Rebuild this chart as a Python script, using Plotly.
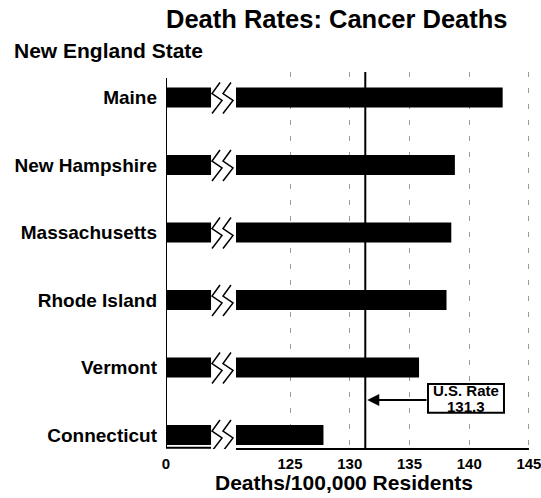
import plotly.graph_objects as go

# ---- data ----
states = ["Connecticut", "Vermont", "Rhode Island", "Massachusetts", "New Hampshire", "Maine"]
rates = [127.8, 135.8, 138.1, 138.5, 138.8, 142.8]
us_rate = 131.3
tick_vals = [125, 130, 135, 140, 145]
tick_text = ["125", "130", "135", "140", "145"]

# ---- broken-axis layout constants (axis units) ----
ZERO_POS = 114.62      # where "0" sits on the compressed axis
STUB_END = 118.39      # end of the stub segment before the break
BREAK_END = 120.48     # where the real scale resumes
X_RANGE = [ZERO_POS, 145.59]
Y_RANGE = [-0.207, 5.378]
FONT = "Liberation Sans, Arial, Helvetica, sans-serif"

ypos = list(range(len(states)))

fig = go.Figure()
# stub (compressed 0..break)
fig.add_trace(go.Bar(
    y=ypos, x=[STUB_END - ZERO_POS] * len(states), base=ZERO_POS,
    orientation="h", width=0.296, marker=dict(color="black", line=dict(width=0)),
    hoverinfo="skip", showlegend=False))
# main bars
fig.add_trace(go.Bar(
    y=ypos, x=[r - BREAK_END for r in rates], base=BREAK_END,
    orientation="h", width=0.296, marker=dict(color="black", line=dict(width=0)),
    customdata=rates, hovertemplate="%{customdata}<extra></extra>", showlegend=False))

shapes = []
# zigzag break marks on each bar
zig_x = [119.14, 118.47, 119.31, 118.47]
zig_dy = [0.222, 0.059, -0.044, -0.237]
for k in ypos:
    for off in (0.0, 0.92):
        pts = [(x + off, k + dy) for x, dy in zip(zig_x, zig_dy)]
        path = "M " + " L ".join(f"{px},{py}" for px, py in pts)
        shapes.append(dict(type="path", path=path, xref="x", yref="y",
                           line=dict(color="black", width=1.5), layer="above"))

# left axis line + bottom bracket
shapes.append(dict(type="line", xref="x", yref="paper", x0=ZERO_POS, x1=ZERO_POS,
                   y0=0.984, y1=0.003, line=dict(color="black", width=2), layer="above"))
shapes.append(dict(type="line", xref="x", yref="paper", x0=ZERO_POS, x1=STUB_END,
                   y0=0.003, y1=0.003, line=dict(color="black", width=2), layer="above"))
# bottom axis line after the break
shapes.append(dict(type="line", xref="x", yref="paper", x0=BREAK_END, x1=145,
                   y0=0, y1=0, line=dict(color="black", width=2), layer="above"))
# US rate line
shapes.append(dict(type="line", xref="x", yref="paper", x0=us_rate, x1=us_rate,
                   y0=0, y1=1, line=dict(color="black", width=2), layer="above"))
# label box
shapes.append(dict(type="rect", xref="x", yref="y", x0=136.55, x1=142.91,
                   y0=0.33, y1=0.755, line=dict(color="black", width=2),
                   fillcolor="white", layer="above"))

annotations = [
    dict(text="Death Rates: Cancer Deaths", xref="paper", yref="paper", x=0.462, y=1.14,
         xanchor="center", yanchor="middle", showarrow=False,
         font=dict(family=FONT, size=25.5, color="black", weight="bold")),
    dict(text="New England State", xref="paper", yref="paper", x=-0.416, y=1.056,
         xanchor="left", yanchor="middle", showarrow=False,
         font=dict(family=FONT, size=21, color="black", weight="bold")),
    dict(text="Deaths/100,000 Residents", xref="paper", yref="paper", x=0.481, y=-0.09,
         xanchor="center", yanchor="middle", showarrow=False,
         font=dict(family=FONT, size=21, color="black", weight="bold")),
    # arrow to US rate line
    dict(text="", x=us_rate, y=0.52, xref="x", yref="y", ax=136.55, ay=0.52,
         axref="x", ayref="y", showarrow=True, arrowhead=2, arrowsize=1.2,
         arrowwidth=2, arrowcolor="black", standoff=2),
    dict(text="U.S. Rate", x=139.73, y=0.665, xref="x", yref="y", showarrow=False,
         xanchor="center", yanchor="middle",
         font=dict(family=FONT, size=15, color="black", weight="bold")),
    dict(text=f"{us_rate}", x=139.73, y=0.43, xref="x", yref="y", showarrow=False,
         xanchor="center", yanchor="middle",
         font=dict(family=FONT, size=15, color="black", weight="bold")),
]

fig.update_layout(
    width=541, height=498,
    margin=dict(l=166, r=5, t=72, b=49, autoexpand=False),
    paper_bgcolor="white", plot_bgcolor="white",
    barmode="overlay",
    shapes=shapes, annotations=annotations,
    font=dict(family=FONT, color="black"),
    xaxis=dict(range=X_RANGE, tickvals=[ZERO_POS] + tick_vals, ticktext=["0"] + tick_text,
               showgrid=True, gridcolor="#9a9a9a", gridwidth=1, griddash="5px,11px",
               zeroline=False, showline=False, ticks="", ticklabelstandoff=4,
               ticklabeloverflow="allow", automargin=False,
               tickfont=dict(family=FONT, size=15, color="black", weight="bold"),
               fixedrange=True),
    yaxis=dict(range=Y_RANGE, tickvals=ypos, ticktext=states, showgrid=False,
               zeroline=False, showline=False, ticks="", ticklabelstandoff=8,
               automargin=False,
               tickfont=dict(family=FONT, size=19, color="black", weight="bold"),
               fixedrange=True),
)

fig.write_html("out.html", config={"displayModeBar": False},
               post_script="document.body.style.margin='0';document.body.style.overflow='hidden';")
